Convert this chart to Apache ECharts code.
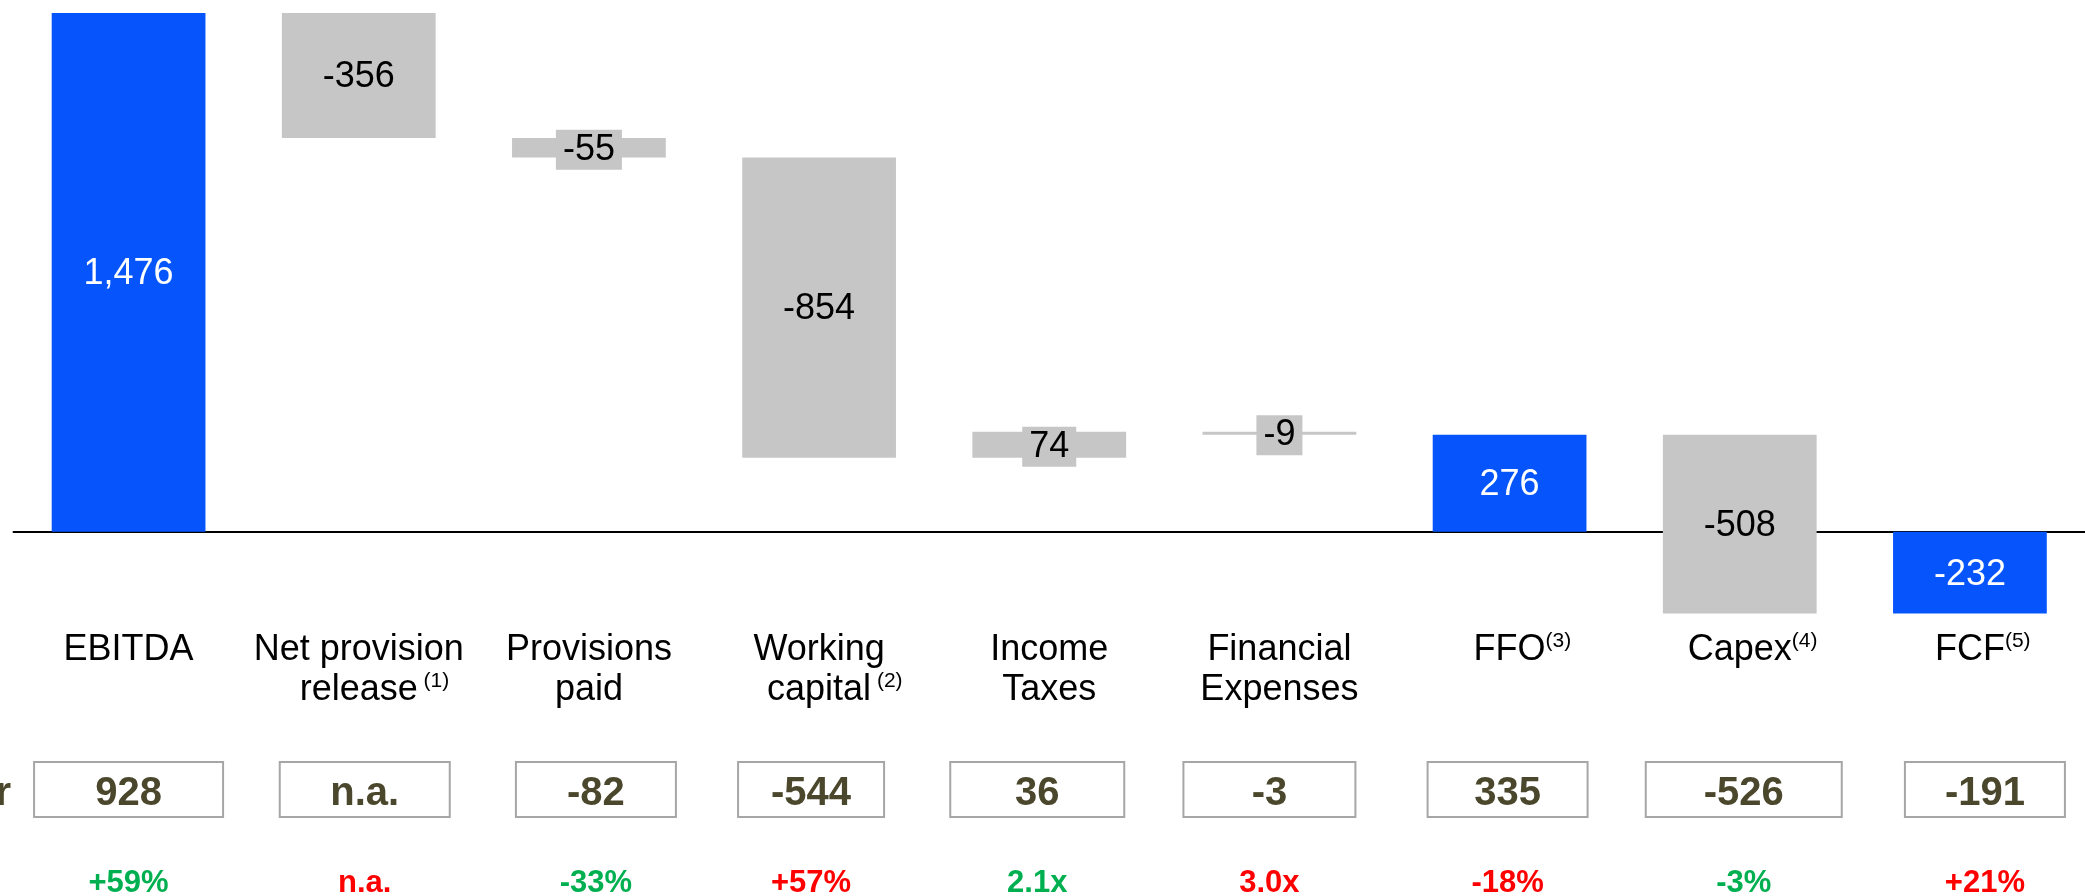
<!DOCTYPE html>
<html>
<head>
<meta charset="utf-8">
<title>Cash flow bridge</title>
<script src="https://cdn.jsdelivr.net/npm/echarts@6/dist/echarts.min.js"></script>
<style>
  html, body { margin: 0; padding: 0; background: #fff; }
  #chart { width: 2085px; height: 896px; }
</style>
</head>
<body>
<div id="chart"></div>
<script>
// chart data
const categories = ['EBITDA', 'Net provision\nrelease', 'Provisions\npaid', 'Working\ncapital', 'Income\nTaxes', 'Financial\nExpenses', 'FFO', 'Capex', 'FCF'];
const footnotes = ['', ' (1)', '', ' (2)', '', '', '(3)', '(4)', '(5)'];
const flows = [1476, -356, -55, -854, 74, -9, 276, -508, -232];
const isTotal = [true, false, false, false, false, false, true, false, true];
const barLabels = ['1,476', '-356', '-55', '-854', '74', '-9', '276', '-508', '-232'];
const priorYear = ['928', 'n.a.', '-82', '-544', '36', '-3', '335', '-526', '-191'];
const changeVsPrior = ['+59%', 'n.a.', '-33%', '+57%', '2.1x', '3.0x', '-18%', '-3%', '+21%'];
const changeGood = [true, false, true, false, true, false, false, true, false];

// layout of the comparison boxes (px)
const boxWidth = [189, 170, 160, 146, 174, 172, 160, 196, 160];
const boxShift = [0, 6, 7, -8, -12, -10, -2, 4, 15];

const FONT = "'Liberation Sans', Arial, sans-serif";
const BLUE = '#0655fc';
const GREY = '#c6c6c6';

// floating ranges of the waterfall
const bars = [];
let level = 0;
flows.forEach((v, i) => {
  let lo, hi;
  if (isTotal[i]) {
    lo = Math.min(0, v); hi = Math.max(0, v);
    level = v;
  } else {
    const end = level + v;
    lo = Math.min(level, end); hi = Math.max(level, end);
    level = end;
  }
  bars.push([i, lo, hi]);
});

const chart = echarts.init(document.getElementById('chart'));

chart.setOption({
  animation: false,
  grid: { left: 13.5, width: 2088, top: 4.5, height: 668 },
  xAxis: {
    type: 'category',
    data: categories,
    axisLine: { onZero: true, lineStyle: { color: '#000', width: 2 } },
    axisTick: { show: false },
    axisLabel: {
      interval: 0,
      margin: -42,
      formatter: (value, idx) => {
        const lines = value.split('\n');
        const fn = footnotes[idx];
        return lines.map((l, k) => {
          if (fn && k === lines.length - 1) {
            return '{h|' + fn + '}{m|' + l + '}{s|' + fn + '}';
          }
          return '{m|' + l + '}';
        }).join('\n');
      },
      rich: {
        m: { fontFamily: FONT, fontSize: 36, color: '#000', lineHeight: 40 },
        s: { fontFamily: FONT, fontSize: 21, color: '#000', lineHeight: 22, verticalAlign: 'top' },
        h: { fontFamily: FONT, fontSize: 21, color: 'transparent', lineHeight: 22, verticalAlign: 'top' }
      }
    }
  },
  yAxis: { type: 'value', min: -400, max: 1500, show: false, splitLine: { show: false } },
  series: [{
    type: 'custom',
    data: bars,
    renderItem: (params, api) => {
      const i = api.value(0);
      const lo = api.coord([i, api.value(1)]);
      const hi = api.coord([i, api.value(2)]);
      const w = api.size([1, 0])[0] * 0.668;
      const total = isTotal[i];
      return {
        type: 'rect',
        shape: { x: lo[0] - w / 2, y: hi[1], width: w, height: Math.max(lo[1] - hi[1], 1) },
        style: { fill: total ? BLUE : GREY },
        textContent: {
          style: {
            text: barLabels[i],
            fill: total ? '#fff' : '#000',
            fontFamily: FONT,
            fontSize: 36,
            lineHeight: 36,
            backgroundColor: total ? 'transparent' : GREY,
            padding: [3, 7, 1, 7]
          }
        },
        textConfig: { position: 'inside', offset: [0, 2] }
      };
    }
  }]
});

// comparison boxes and change row
const graphics = [];
graphics.push({
  type: 'text', x: 11, y: 794,
  style: { text: 'Prior year', fill: '#4a472c', font: 'bold 40px ' + FONT, textAlign: 'right', textVerticalAlign: 'middle' }
});
categories.forEach((c, i) => {
  const cx = chart.convertToPixel({ gridIndex: 0 }, [i, 0])[0] + boxShift[i];
  const w = boxWidth[i];
  graphics.push({
    type: 'rect',
    shape: { x: cx - w / 2, y: 762, width: w, height: 55 },
    style: { fill: '#fff', stroke: '#a6a6a6', lineWidth: 2 }
  });
  graphics.push({
    type: 'text', x: cx, y: 794,
    style: { text: priorYear[i], fill: '#4a472c', font: 'bold 40px ' + FONT, textAlign: 'center', textVerticalAlign: 'middle' }
  });
  graphics.push({
    type: 'text', x: cx, y: 883,
    style: { text: changeVsPrior[i], fill: changeGood[i] ? '#00b050' : '#ff0000', font: 'bold 31px ' + FONT, textAlign: 'center', textVerticalAlign: 'middle' }
  });
});
chart.setOption({ graphic: graphics });
</script>
</body>
</html>
